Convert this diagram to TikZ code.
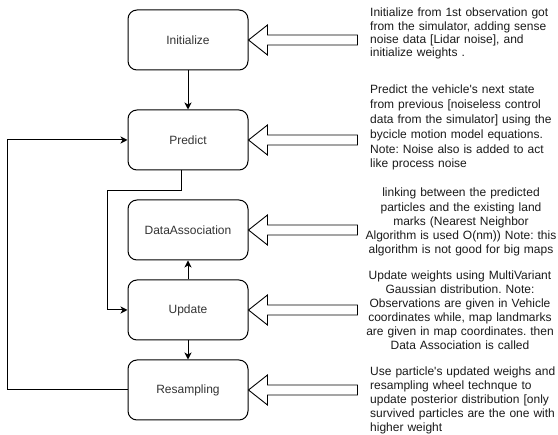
\documentclass[tikz,border=0pt]{standalone}
\usepackage{fontspec}
\setmainfont{Liberation Sans}
\usetikzlibrary{arrows.meta}
\frenchspacing
\definecolor{boxtext}{HTML}{333333}
\definecolor{desctext}{HTML}{1A1A1A}
\tikzset{
  stage/.style={draw=black, line width=1pt, rounded corners=9pt, minimum width=120pt, minimum height=60pt, inner sep=0pt, text=boxtext, font=\fontsize{12}{14}\selectfont},
  flow/.style={draw=black, line width=1pt, -{Stealth[length=7pt,width=7pt,inset=2pt]}},
  blockarrow/.style={draw=black, line width=0.9pt, fill=white, line join=miter},
  descl/.style={anchor=base west, inner sep=0pt, text width=200pt, align=left, text=desctext},
  descc/.style={anchor=base, inner sep=0pt, text width=200pt, align=center, text=desctext},
}
\begin{document}
\begin{tikzpicture}[x=1pt,y=-1pt]
\useasboundingbox (0,0) rectangle (558,435);
\node[stage] (init) at (188,40) {Initialize};
\node[stage] (pred) at (188,140) {Predict};
\node[stage] (da) at (188,230) {DataAssociation};
\node[stage] (upd) at (188,310) {Update};
\node[stage] (res) at (188,390) {Resampling};

\draw[flow] (init) -- (pred);
\draw[flow] (upd) -- (da);
\draw[flow] (upd) -- (res);
\coordinate (pexit) at (181,170);
\draw[flow] (pexit) -- ++(0,21) -| (107,310) -- (upd.west);
\draw[flow] (res.west) -- (7,390) |- (pred.west);

\foreach \n in {init,pred,da,upd,res}{
  \draw[blockarrow] (\n.east) -- ++(19,-15) -- ++(0,10) -- ++(90,0) -- ++(0,10) -- ++(-90,0) -- ++(0,10) -- cycle;
}

\node[descl, font=\fontsize{12}{13.2}\selectfont] (tinit) at (370,17) {Initialize from 1st observation got\\from the simulator, adding sense\\noise data [Lidar noise], and\\initialize weights .};
\node[descl, font=\fontsize{12}{14.8}\selectfont] (tpred) at (370,94) {Predict the vehicle\textquotesingle s next state\\from previous [noiseless control\\data from the simulator] using the\\bycicle motion model equations.\\Note: Noise also is added to act\\like process noise};
\node[descc, font=\fontsize{12}{14.2}\selectfont] (tda) at (461,197) {linking between the predicted\\particles and the existing land\\marks (Nearest Neighbor\\Algorithm is used O(nm)) Note: this\\algorithm is not good for big maps};
\node[descc, font=\fontsize{12}{14}\selectfont] (tupd) at (460,280) {Update weights using MultiVariant\\Gaussian distribution. Note:\\Observations are given in Vehicle\\coordinates while, map landmarks\\are given in map coordinates. then\\Data Association is called};
\node[descl, font=\fontsize{12}{14}\selectfont] (tres) at (370,376) {Use particle\textquotesingle s updated weighs and\\resampling wheel technque to\\update posterior distribution [only\\survived particles are the one with\\higher weight};
\end{tikzpicture}
\end{document}
